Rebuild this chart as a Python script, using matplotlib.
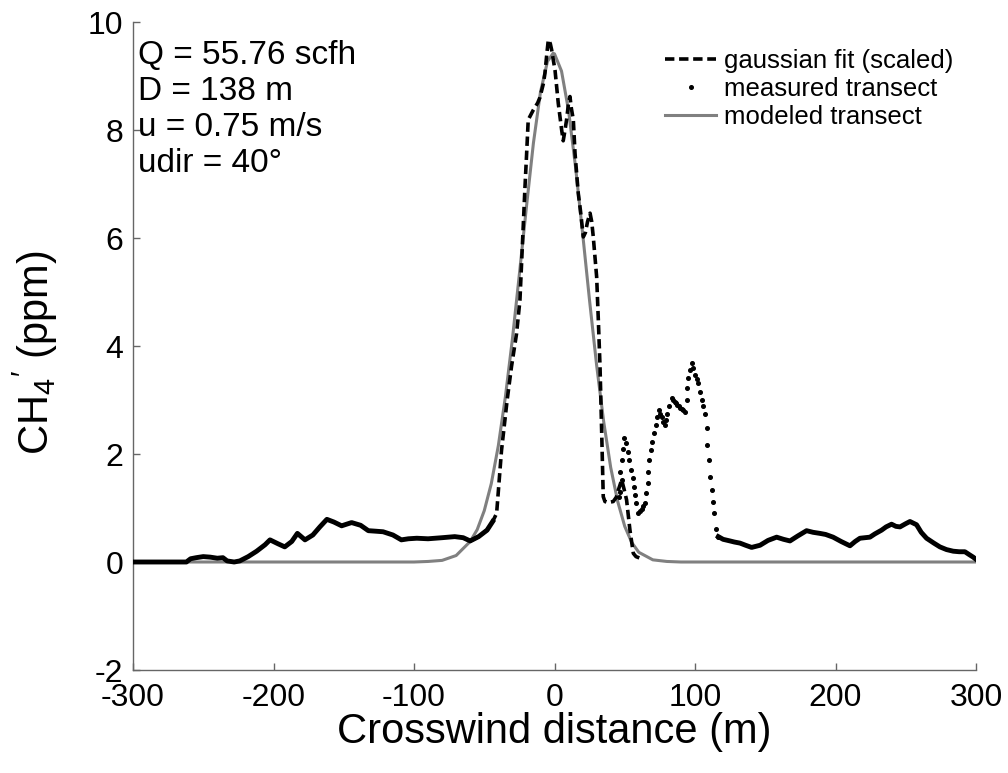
import matplotlib
matplotlib.use("Agg")
import matplotlib.pyplot as plt

plt.rcParams['font.family'] = ['Liberation Sans', 'DejaVu Sans']
plt.rcParams['mathtext.fontset'] = 'custom'
plt.rcParams['mathtext.rm'] = 'Liberation Sans'
plt.rcParams['mathtext.it'] = 'Liberation Sans:italic'
plt.rcParams['axes.unicode_minus'] = False

# ---- measured transect, dense sections (left / right tails) ----
meas_left_x = [-300, -262, -259, -255, -250, -245, -240, -236, -233, -228, -224, -218, -212,
               -206, -202.5, -197, -192, -187, -183, -177.6, -172, -167, -162, -157, -151.5,
               -148, -144.4, -138, -132.5, -127, -122, -115, -109, -104, -98, -90, -80, -71,
               -65, -60, -54, -48, -44]
meas_left_y = [0, 0, 0.06, 0.08, 0.10, 0.09, 0.07, 0.08, 0.02, 0.0, 0.02, 0.10, 0.20,
               0.32, 0.41, 0.34, 0.28, 0.38, 0.53, 0.41, 0.50, 0.65, 0.79, 0.74, 0.67,
               0.70, 0.73, 0.68, 0.58, 0.57, 0.56, 0.50, 0.41, 0.43, 0.44, 0.43, 0.45, 0.47,
               0.45, 0.39, 0.47, 0.59, 0.75]

meas_right_x = [116.6, 120, 124.9, 128, 132, 136, 140.3, 146.3, 152, 158.1, 163, 167.6, 173,
                179.4, 184, 188.9, 193, 198.3, 204, 210.3, 214, 217.4, 224.5, 228, 232.8,
                236, 239.9, 243, 245.9, 250, 253, 257.7, 261, 264.8, 270, 274.3, 279, 283.8,
                288, 292.1, 295, 298, 300]
meas_right_y = [0.47, 0.42, 0.39, 0.37, 0.35, 0.31, 0.27, 0.31, 0.40, 0.46, 0.42, 0.39, 0.48,
                0.58, 0.55, 0.53, 0.51, 0.46, 0.38, 0.30, 0.38, 0.44, 0.46, 0.52, 0.59,
                0.65, 0.70, 0.66, 0.65, 0.71, 0.75, 0.69, 0.55, 0.44, 0.35, 0.28, 0.23, 0.20,
                0.19, 0.19, 0.14, 0.09, 0.05]

# ---- measured transect, sparse points (secondary plume) ----
meas_sparse_x = [46.0, 46.6, 47.8, 46.8, 47.8, 48.5, 49.7, 50.9, 52.1, 53.2, 54.4, 55.6, 56.8,
                 57.0, 58.0, 59.6, 60.8, 62.0, 63.2, 64.4, 65.1, 66.3, 66.7, 67.4, 68.6, 69.6,
                 70.8, 72.2, 73.1, 74.1, 75.2, 76.2, 77.4, 78.6, 79.3, 80.2, 81.6, 83.6, 84.5,
                 85.5, 86.5, 87.5, 88.5, 89.5, 90.5, 91.5, 92.9, 94.0, 94.5, 95.2, 96.4, 97.6,
                 98.8, 100.0, 101.2, 102.3, 103.5, 104.7, 105.9, 107.1, 108.3, 108.7, 110.1,
                 110.7, 111.9, 113.0, 113.8, 115.0, 116.6]
meas_sparse_y = [1.20, 1.30, 1.52, 1.67, 1.89, 2.10, 2.29, 2.20, 2.04, 1.89, 1.70, 1.55, 1.39,
                 1.24, 1.09, 0.90, 0.94, 0.99, 1.04, 1.09, 1.27, 1.46, 1.67, 1.89, 2.07, 2.23,
                 2.38, 2.54, 2.69, 2.81, 2.75, 2.69, 2.60, 2.54, 2.63, 2.75, 2.89, 3.03, 3.00,
                 2.97, 2.94, 2.91, 2.88, 2.85, 2.83, 2.81, 2.78, 3.00, 3.22, 3.40, 3.56, 3.68,
                 3.59, 3.46, 3.39, 3.31, 3.15, 3.00, 2.88, 2.75, 2.48, 2.17, 1.89,
                 1.58, 1.33, 1.12, 0.90, 0.62, 0.47]

# ---- gaussian fit (scaled) ----
fit_x = [-60, -54, -48, -44, -41.2, -37.7, -33.7, -30.6, -27, -24.6, -21, -19.9, -18.7, -15.1,
         -12, -10.4, -8, -6.8, -5.5, -4.4, -3, -2, 0.4, 2.7, 5.1, 6.2, 7.5, 8.6, 10, 11, 12,
         13.4, 14.6, 16.9, 18.5, 20.5, 22, 23.5, 25.3, 26.5, 27.6, 30, 31.2, 32.4, 33.6, 34.7,
         35.9, 38, 41.8, 44, 45.4, 47.8, 49.5, 51.3, 53.7, 56.1, 58, 60.9]
fit_y = [0.39, 0.47, 0.59, 0.75, 0.90, 2.07, 3.00, 3.62, 4.23, 4.85, 6.95, 7.53, 8.19, 8.37,
         8.50, 8.60, 8.85, 9.05, 9.40, 9.67, 9.60, 9.48, 9.10, 8.49, 8.00, 7.80, 8.00, 8.19,
         8.50, 8.62, 8.40, 8.19, 7.57, 6.83, 6.50, 6.02, 6.10, 6.30, 6.46, 6.30, 6.02, 5.28,
         4.48, 3.62, 2.38, 1.21, 1.12, 1.10, 1.12, 1.20, 1.33, 1.52, 1.35, 1.15, 0.59, 0.16,
         0.10, 0.07]

# ---- modeled transect ----
model_x = [-300, -100, -90, -80, -70, -60, -55, -50, -45, -40, -35, -30, -25, -20, -15, -10,
           -5, -1, 0, 5, 10, 15, 20, 25, 30, 35, 40, 45, 50, 55, 60, 70, 80, 90, 100, 300]
model_y = [0, 0, 0.01, 0.03, 0.12, 0.38, 0.60, 0.95, 1.45, 2.15, 3.05, 4.12, 5.33, 6.57,
           7.76, 8.70, 9.27, 9.42, 9.41, 9.09, 8.36, 7.31, 6.09, 4.83, 3.64, 2.60, 1.75,
           1.12, 0.66, 0.36, 0.18, 0.04, 0.01, 0, 0, 0]

text_lines = ["Q = 55.76 scfh", "D = 138 m", "u = 0.75 m/s", "udir = 40°"]
xticks = [-300, -200, -100, 0, 100, 200, 300]
yticks = [-2, 0, 2, 4, 6, 8, 10]

W, H = 1008, 773
fig = plt.figure(figsize=(W / 100, H / 100), dpi=100)
ax = fig.add_axes([133 / W, 1 - 670 / H, (976 - 133) / W, (670 - 22) / H])

gray = (0.5, 0.5, 0.5)
ax.plot(model_x, model_y, color=gray, lw=2.2, zorder=2)
ax.plot(meas_left_x, meas_left_y, color='k', lw=3.5, zorder=3, solid_joinstyle='round')
ax.plot(meas_right_x, meas_right_y, color='k', lw=3.5, zorder=3, solid_joinstyle='round')
h_meas, = ax.plot(meas_sparse_x, meas_sparse_y, ls='none', marker='o', ms=2.6,
                  color='k', zorder=3)
h_fit, = ax.plot(fit_x, fit_y, color='k', lw=2.6, dashes=(2.6, 1.3), zorder=4)
h_mod, = ax.plot([], [], color=gray, lw=2.2)

ax.set_xlim(-300, 300)
ax.set_ylim(-2, 10)
ax.set_xticks(xticks)
ax.set_yticks(yticks)
for s in ['top', 'right']:
    ax.spines[s].set_visible(False)
for s in ['left', 'bottom']:
    ax.spines[s].set_color('#666666')
    ax.spines[s].set_linewidth(1.0)
ax.tick_params(direction='in', length=5, width=1, color='#666666', labelsize=23)
ax.tick_params(axis='x', pad=9)
ax.tick_params(axis='y', pad=7)

ax.set_xlabel("Crosswind distance (m)", fontsize=30)
ax.xaxis.set_label_coords(0.5, -0.095)
ax.xaxis.label.set_va('center')
ax.set_ylabel(r"CH$_4{}^{\prime}$ (ppm)", fontsize=30)
ax.yaxis.set_label_coords(-0.116, 0.49)
ax.yaxis.label.set_va('center')

ys = [55, 91, 127, 163]
for t, yp in zip(text_lines, ys):
    ax.text(0.006, (670 - yp) / 648, t, transform=ax.transAxes, fontsize=24,
            ha='left', va='center')

leg = ax.legend([h_fit, h_meas, h_mod],
                ["gaussian fit (scaled)", "measured transect", "modeled transect"],
                loc='upper left', bbox_to_anchor=(665 / W, 1 - 49 / H),
                bbox_transform=fig.transFigure, frameon=False, fontsize=18.5,
                handlelength=2.0, handletextpad=0.3, labelspacing=0.15, numpoints=1,
                borderaxespad=0, borderpad=0)

fig.savefig("out.png", dpi=100)
